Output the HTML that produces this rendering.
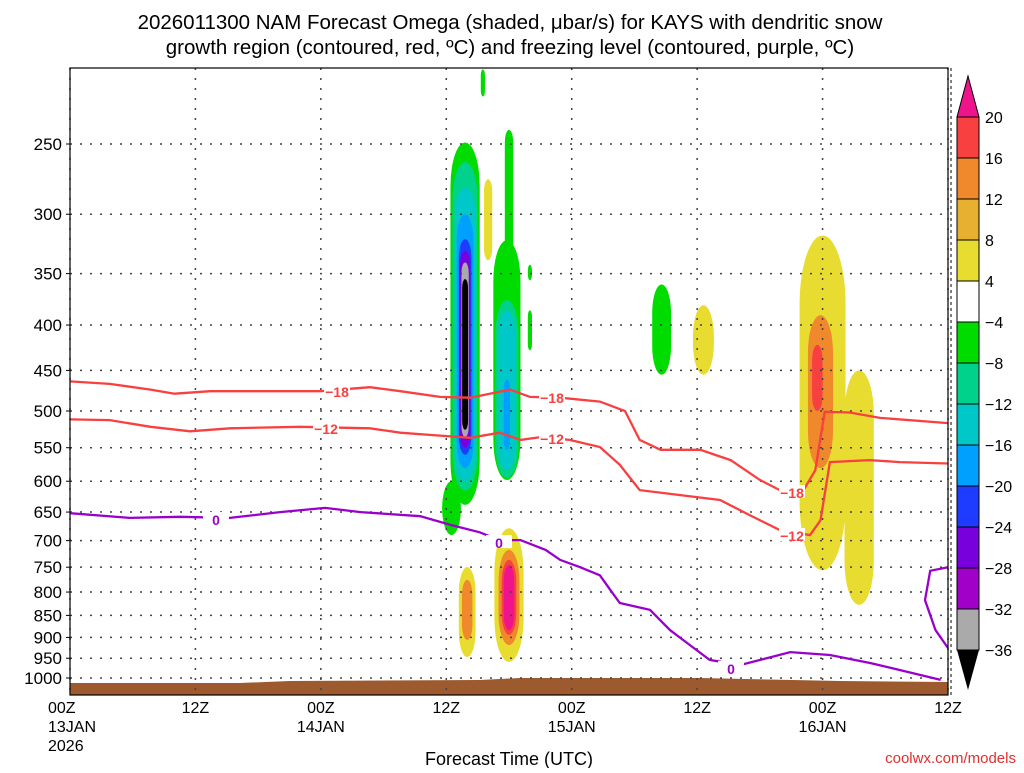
<!DOCTYPE html>
<html><head><meta charset="utf-8"><style>
body{margin:0;background:#fff;}
svg text{font-family:"Liberation Sans",sans-serif;}
</style></head><body>
<svg id="c" width="1024" height="768" xmlns="http://www.w3.org/2000/svg">
<text x="510" y="29" font-size="20.5" text-anchor="middle">2026011300 NAM Forecast Omega (shaded, μbar/s) for KAYS with dendritic snow</text>
<text x="510" y="54" font-size="20.5" text-anchor="middle">growth region (contoured, red, ºC) and freezing level (contoured, purple, ºC)</text>
<g id="plot"></g>
<text x="509" y="765" font-size="18" text-anchor="middle">Forecast Time (UTC)</text>
<text x="1016" y="763" font-size="15" fill="#e03030" text-anchor="end">coolwx.com/models</text>
</svg>
<script>
const pTicks=[250,300,350,400,450,500,550,600,650,700,750,800,850,900,950,1000];
const xHours=[0,12,24,36,48,60,72,84];
const xTop=["00Z","12Z","00Z","12Z","00Z","12Z","00Z","12Z"];
const xMid=["13JAN","","14JAN","","15JAN","","16JAN",""];
const xBot=["2026","","","","","","",""];
// contours: hours and pressures
const m18H=[0,3.8,7.7,10,13.4,18.2,23.9,28.7,31.6,35.4,38.3,42.1,44,46.9,50.7,53.1,54.5,56.5,60.3,63.2,66,67.9,69.9,71.3,72.2,74.6,77.5,84];
const m18P=[463,466,473,478,475,475,475,470,475,482,483,473,482,483,488,500,539,553,553,568,598,614,622,583,501,502,509,516];
const m12H=[0,3.8,7.7,11.5,15.3,22,28.7,31.6,34.4,38.3,41.1,43.1,45,47.8,50.7,52.6,54.5,58.4,62.2,65,67.9,70.8,71.8,72.7,76.5,79.4,84];
const m12P=[511,512,521,527,523,521,523,529,532,536,529,539,535,539,549,575,614,622,630,655,681,690,664,571,568,571,573];
const frzH=[0,5.7,10.5,15.3,20.1,24.4,27.8,33.5,36.4,39.2,41.1,43.1,45.5,46.9,48.8,50.7,51.7,52.6,55.5,57.4,59.3,61.2,64.1,68.9,72.7,76.6,83.3];
const frzP=[652,660,658,660,650,643,650,657,672,685,699,699,717,736,750,766,796,823,838,883,918,954,967,935,942,962,1005];
const frz2H=[84,82.3,81.8,82.8,84];
const frz2P=[750,757,817,883,925];
// shaded omega blobs: [centre hour, half-width hours, p top, p bottom, omega level]
const blobs=[
[37.8,1.4,249,638,-4],[36.5,0.9,600,690,-4],[37.8,1.2,262,615,-8],[37.8,1.0,280,600,-12],[37.8,0.8,300,580,-16],[37.8,0.6,320,560,-20],[37.8,0.5,330,550,-24],[37.8,0.35,340,535,-32],[37.8,0.28,355,525,-36],
[41.8,1.3,321,598,-4],[41.8,1.1,375,595,-8],[41.8,0.8,385,583,-12],[41.8,0.3,461,553,-16],
[42.0,0.4,241,338,-4],[40.0,0.4,274,338,4],[39.5,0.2,206,221,-4],[44.0,0.2,342,356,-4],[44.0,0.2,385,427,-4],
[56.6,0.9,360,455,-4],[60.6,1.0,380,455,4],
[72,2.2,317,756,4],[75.5,1.4,450,827,4],[71.8,1.2,390,580,8],[71.5,0.5,421,500,12],
[38,0.8,750,947,4],[38,0.5,775,906,8],[42,1.4,678,959,4],[42,1.0,717,918,8],[42,0.7,736,894,12],[42,0.5,746,883,16]
];
const cbLevels=[20,16,12,8,4,-4,-8,-12,-16,-20,-24,-28,-32,-36];
const cbColors=["#f84040","#f0882c","#e8b030","#e8dc30","#ffffff","#00dc00","#00d28c","#00c8c8","#00a0ff","#1e3cff","#7800dc","#a000c8","#aaaaaa"];
function colorFor(v){if(v>=16)return"#f0148c";if(v>=12)return cbColors[0];if(v>=8)return cbColors[1];if(v>=4)return cbColors[3];
 const i=Math.round((-v-4)/4);return cbColors[5+Math.min(i,7)]||"#000";}
const X0=70,X1=948,Y0=68,YB=695;
const xs=h=>X0+(h/84)*(X1-X0);
const ys=p=>678-385.2*Math.log(1000/p);
const NS="http://www.w3.org/2000/svg";
const g=document.getElementById('plot');
function mk(t,a,par){const e=document.createElementNS(NS,t);for(const k in a)e.setAttribute(k,a[k]);(par||g).appendChild(e);return e;}
// blobs
blobs.forEach(b=>{const y1=ys(b[2]),y2=ys(b[3]),w=b[1]*10.45;
 const e=mk('rect',{x:xs(b[0])-w,y:y1,width:2*w,height:y2-y1,rx:w,ry:Math.min((y2-y1)/2,w*3),fill:b[4]>-36?colorFor(b[4]):"#000"});
 
 });
// ground
const gr=mk('polygon',{points:`${X0},683 240,683 290,681 480,680 520,678 700,678 840,681 ${X1},682 ${X1},${YB} ${X0},${YB}`,fill:"#9c5a2e"});


// grid
pTicks.forEach(p=>{const y=ys(p);
 const l=mk('line',{x1:X0,x2:X1,y1:y,y2:y,stroke:"#444","stroke-dasharray":"2,8","stroke-width":1.5});
 
 
 const t=mk('text',{x:62,y:y+6,"font-size":17,"text-anchor":"end"});t.textContent=p;
 
 
 mk('line',{x1:X0-4,x2:X0,y1:y,y2:y,stroke:"#000"});});
xHours.forEach((h,i)=>{const x=xs(h);
 const l=mk('line',{x1:x,x2:x,y1:Y0,y2:YB,stroke:"#444","stroke-dasharray":"2,8","stroke-width":1.5});
 
 
 [[xTop[i],713],[xMid[i],732],[xBot[i],751]].forEach(([s,y])=>{if(!s)return;
  const t=mk('text',{x:i==0?x-22:x,y:y,"font-size":16,"text-anchor":i==0?"start":"middle"});t.textContent=s;
  
  });});
function line(H,P,col,name){const d=H.map((h,i)=>(i?'L':'M')+xs(h).toFixed(1)+','+ys(P[i]).toFixed(1)).join('');
 const e=mk('path',{d:d,fill:"none",stroke:col,"stroke-width":2.3});
 
 }
line(m18H,m18P,"#f84040","contour-minus18");
line(m12H,m12P,"#f84040","contour-minus12");
line(frzH,frzP,"#9a00cc","freezing-level");
line(frz2H,frz2P,"#9a00cc","freezing-level-right");
function lab(x,y,s,col){mk('rect',{x:x-13,y:y-7,width:26,height:13,fill:"#fff"});
 const t=mk('text',{x:x,y:y+6,"font-size":14,"font-weight":"bold",fill:col,"text-anchor":"middle"});t.textContent=s;
 
 }
lab(337,391,"−18","#f84040");lab(552,397,"−18","#f84040");lab(792,492,"−18","#f84040");
lab(326,428,"−12","#f84040");lab(552,438,"−12","#f84040");lab(792,535,"−12","#f84040");
lab(216,519,"0","#9a00cc");lab(499,542,"0","#9a00cc");lab(731,668,"0","#9a00cc");
// frame
mk('line',{x1:X0,x2:X0,y1:Y0,y2:YB,stroke:"#000","stroke-dasharray":"3,3"});
mk('rect',{x:X0,y:Y0,width:X1-X0,height:YB-Y0,fill:"none",stroke:"#000","stroke-width":1.2});
mk('line',{x1:X1+3,x2:X1+3,y1:Y0,y2:YB,stroke:"#000","stroke-dasharray":"3,3"});
// colorbar
const cbX=957,cbW=22,cbTop=117,cbStep=41;
const cb=mk('g',{});


mk('polygon',{points:`${cbX},${cbTop} ${cbX+cbW},${cbTop} ${cbX+cbW/2},76`,fill:"#f0148c",stroke:"#000"},cb);
cbColors.forEach((c,i)=>mk('rect',{x:cbX,y:cbTop+i*cbStep,width:cbW,height:cbStep,fill:c,stroke:"#000"},cb));
const cbBot=cbTop+cbColors.length*cbStep;
mk('polygon',{points:`${cbX},${cbBot} ${cbX+cbW},${cbBot} ${cbX+cbW/2},690`,fill:"#000"},cb);
cbLevels.forEach((v,i)=>{const t=mk('text',{x:985,y:cbTop+i*cbStep+6,"font-size":16},cb);t.textContent=v<0?"−"+(-v):v;
 
 });
</script>
</body></html>
